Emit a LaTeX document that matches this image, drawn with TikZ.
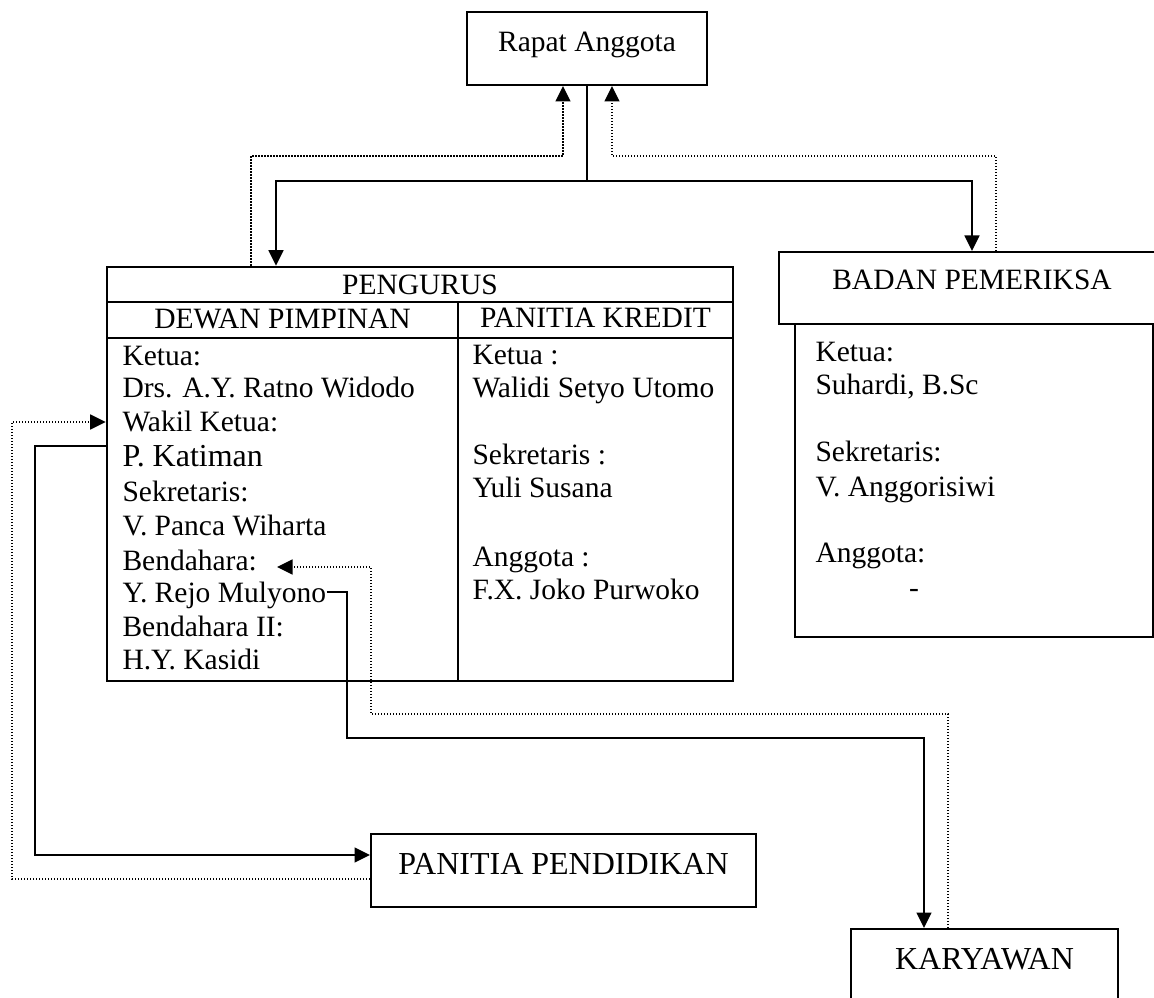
\documentclass[tikz,border=0pt]{standalone}
\usepackage{fontspec}
\setmainfont{Liberation Serif}
\usepackage{tikz}
\usetikzlibrary{arrows.meta}

\newcommand\bigtxt{\fontsize{12.8}{15}\selectfont}
\tikzset{
  txt/.style={font=\fontsize{11.8}{14}\selectfont, inner sep=0pt},
  item/.style={txt, anchor=base west},
  box/.style={draw, line width=0.8pt, inner sep=0pt, txt},
  tbl/.style={draw, line width=1pt, inner sep=0pt},
  conn/.style={line width=0.7pt},
  arr/.style={conn, -{Triangle[length=6.2pt, width=6pt]}},
  dotarr/.style={line width=0.6pt, dash pattern=on 0.5pt off 0.7pt,
    -{Triangle[length=6.2pt, width=6pt]}}
}

\begin{document}
\begin{tikzpicture}[x=0.4pt, y=-0.4pt]
        \useasboundingbox (0,0) rectangle (1154,998);
        % boxes
        \node[box, minimum width=96pt, text height=16pt, text depth=13.2pt]
          (rapat) at (587,48.5) {Rapat Anggota};
        \node[tbl, minimum width=250.4pt, minimum height=165.6pt] (pengurus) at (420,474) {};
        \node[box, minimum width=143.2pt, minimum height=125.2pt] (badanisi) at (974,480.5) {};
        \node[box, fill=white, minimum width=154.4pt, text height=15.2pt, text depth=13.6pt]
          (badan) at (972,288) {BADAN PEMERIKSA};
        \node[box, font=\bigtxt, minimum width=154pt, text height=16pt, text depth=13.2pt]
          (pendidikan) at (563.5,870.5) {PANITIA PENDIDIKAN};
        \node[box, font=\bigtxt, minimum width=106.8pt, text height=16pt, text depth=24pt]
          (karyawan) at (984.5,979) {KARYAWAN};

        % table of pengurus
        \draw[line width=1pt] (107,302) -- (733,302);
        \draw[line width=1pt] (107,338) -- (733,338);
        \draw[line width=1pt] (458,302) -- (458,681);
        \node[txt, anchor=base] (hdr) at (420,295) {PENGURUS};
        \node[txt, anchor=base] (dewan) at (282.5,329) {DEWAN PIMPINAN};
        \node[txt, anchor=base] (kredit) at (595.5,328) {PANITIA KREDIT};

        \foreach \y/\t [count=\i] in {366/Ketua:, 398/Drs. A.Y. Ratno Widodo,
            432/Wakil Ketua:, 467/{\bigtxt P. Katiman}, 502/Sekretaris:,
            536/V. Panca Wiharta, 571/Bendahara:, 603/Y. Rejo Mulyono,
            637/Bendahara II:, 670/H.Y. Kasidi}
          \node[item] (dp\i) at (122,\y) {\t};
        \foreach \y/\t [count=\i] in {365/Ketua :, 398/Walidi Setyo Utomo,
            465/Sekretaris :, 498/Yuli Susana, 567/Anggota :, 600/F.X. Joko Purwoko}
          \node[item] (pk\i) at (472,\y) {\t};
        \foreach \y/\t [count=\i] in {362/Ketua:, 395/{Suhardi, B.Sc},
            462/Sekretaris:, 497/V. Anggorisiwi, 563/Anggota:}
          \node[item] (bp\i) at (815,\y) {\t};
        \node[txt, anchor=base] (bpkosong) at (914,598) {-};

        % garis komando
        \coordinate (split) at (587,181);
        \draw[conn] (rapat.south) -- (split);
        \draw[arr] (split) -| (pengurus.north -| 276,0);
        \draw[arr] (split) -| (badan.north -| 972,0);
        \draw[arr] (pengurus.west |- 0,446) -| (35,855) -- (pendidikan.west |- 0,855);
        \draw[arr] (dp8.east |- 0,592) -| (347,738) -| (karyawan.north -| 924,0);

        % garis pertanggungjawaban
        \coordinate (bendtip) at (277,567);
        \draw[dotarr] (pengurus.north -| 251,0) |- (563,156) -- (rapat.south -| 563,0);
        \draw[dotarr] (badan.north -| 996,0) |- (612,156) -- (rapat.south -| 612,0);
        \draw[dotarr] (pendidikan.west |- 0,879) -| (12,422) -- (pengurus.west |- 0,422);
        \draw[dotarr] (karyawan.north -| 948,0) |- (371,714) |- (bendtip);
    \end{tikzpicture}
\end{document}
